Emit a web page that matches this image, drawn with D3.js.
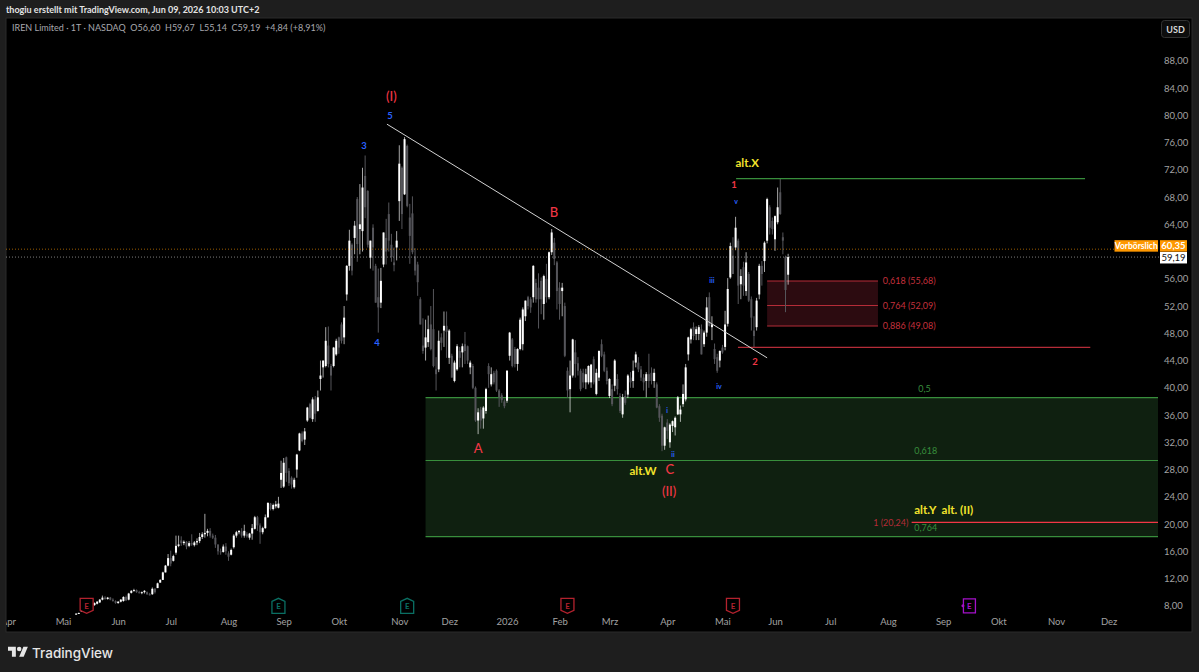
<!DOCTYPE html>
<html lang="de">
<head>
<meta charset="utf-8">
<title>IREN Limited 1T</title>
<script src="https://cdn.jsdelivr.net/npm/d3@7"></script>
<style>
  html, body { margin: 0; padding: 0; background: #1e1e1e; overflow: hidden; }
  svg { display: block; }
  text { font-family: Lato, "Noto Sans", sans-serif; }
  .axis text { fill: #a2a2a2; font-size: 9.5px; font-family: Lato, "Noto Sans", sans-serif; }
  .axis .domain, .axis line { display: none; }
</style>
</head>
<body>
<svg id="chart" width="1199" height="672"></svg>
<script>
// Daily sessions from 2025-05-08 to 2026-06-08, ten sessions per line.
const opens = [
  6.7,6.85,7.2,7.5,7.6,7.9,8.0,8.1,8.3,8.5,
  8.9,9.2,9.0,9.2,8.9,8.7,8.4,8.6,8.7,9.3,
  8.9,9.9,10.2,10.3,10.0,9.9,10.0,10.0,9.7,9.7,
  10.5,10.6,11.4,11.8,12.9,13.9,15,14.6,15.8,16.8,
  17.6,17.2,17.4,16.8,17.2,16.9,17.3,17.5,18.1,18.5,
  18.7,19,18.3,18,17,16,15.9,16.7,15.7,15.5,
  16.6,18.3,18.8,18.9,18.3,18.5,18,18.6,19.3,21,
  19.8,18.8,19.4,21,23,22.2,22.6,22.4,26.5,25.5,
  29.8,27.8,26.8,25.4,28,30.8,33.3,32.4,35.2,37.6,
  35.4,38.3,36.6,41.3,43,43.2,46.2,43.2,43.2,44.9,
  47.4,49.3,47.4,53.7,57.9,61,62,67.7,63.3,63,
  71.1,68.9,59.1,63.5,57.9,53.3,52.5,58.1,62,65.5,
  61,58.4,60.6,67.4,72.3,68.4,75.5,65,65.6,59.3,
  58.1,53,46.2,45.9,46.7,49.3,48.6,42.7,42.7,47.4,
  48.4,49.1,44.4,44.7,41,42.7,45.4,45.2,46.4,46.1,
  43,43.2,40,35.2,36.8,35.5,36.6,43.2,40.5,42.2,
  42.5,39.6,38.9,38,38.1,44.7,47.1,45.7,43.5,45.7,
  46.4,50.5,53.3,53,53.3,55.4,54.7,55.7,52.3,56,
  53.3,59.9,61.3,58.4,54.7,54.2,52,42.5,39.8,41.8,
  45.2,43.6,42.5,42.2,40.8,40.8,40.8,44.2,39.1,41.5,
  46.4,44.9,42.5,38.8,39.8,40.3,41.3,38.8,36.1,38.8,
  39,41.5,41,43.7,43.7,42.7,41.5,41,42,42.2,
  41,40.5,37.3,35.9,31.5,34.9,32,34.4,34.2,36.1,
  36.1,37.6,38.3,44.9,47.1,48.9,47.9,47.9,48.6,46.4,
  48.1,53.3,48.9,45.7,44.5,44,45.9,46,49.4,56.2,
  59.4,60.6,61.6,55.2,57.7,54.2,56.7,53,48.4,48.9,
  53.7,57.9,58.6,61.6,66.5,64.5,61.8,64.3,68.7,62.1,
  59.2,56.60
];
const highs = [
  6.9,7.0,7.6,7.8,8.0,8.2,8.2,8.5,8.7,9.0,
  9.5,9.4,9.3,9.3,9.1,8.8,8.7,9.0,9.4,9.5,
  9.9,10.3,10.5,10.4,10.2,10.1,10.3,10.1,9.9,10.7,
  10.6,11.4,11.9,13.0,14.0,15.6,16.1,15.5,18.3,18.3,
  18.2,17.6,17.5,17.5,18.5,17.5,17.9,18.7,18.8,21.5,
  19.3,19.4,18.6,18.4,17,16.4,17.0,17.2,16.0,16.4,
  18.5,19.0,19.1,19.4,19.9,18.8,18.7,20.0,21.2,21.2,
  20.1,19.6,21.4,23.2,23.1,23.0,23.4,24.0,29.3,29.7,
  29.9,28.2,27.0,26.8,30.3,33.4,33.6,34.1,37.2,37.8,
  38.6,38.8,39.6,44,44,48.9,49,43.5,46,47.2,
  47.5,49.6,52,58,63.2,61.2,64.5,68,69.9,72.3,
  74.1,69,61.6,64,58.2,57.5,57.6,62.8,64.8,67.2,
  62.6,60.6,63,75.6,72.5,76.8,75.7,67,68.1,60.5,
  58.5,53.3,50.2,50,50.6,52,54.5,44.5,48.4,48,
  51.2,51.2,48.6,45,44,46.4,46,46.5,48.2,46.2,
  44,43.5,40.2,37,37.2,37.3,40,43.6,43,42.5,
  42.7,39.8,39.2,38.3,42.6,48.2,47.3,46,45.8,50.3,
  51.8,52.8,53.5,53.3,58,56,56.8,56.2,56.6,58.2,
  60,63.3,62,58.6,55.5,55.4,52.5,43,44,47.2,
  47,44.5,42.8,42.8,42.8,43.3,43.5,44.6,42.8,45.5,
  47.1,45.3,43,41.4,40.5,44.2,42,39.2,39.1,39.6,
  42,42.3,44,45.3,44.5,43.2,42,42.3,45,43,
  42.8,40.8,37.6,36.2,34.3,35.4,34.8,35.2,35.8,38.8,
  37.4,40.5,43.5,47.5,48.8,49.6,49,49.2,49.3,48.4,
  53.3,54,50.5,46.5,45,45.5,46.3,51.3,56.1,61.3,
  62.1,65.1,61.9,57.4,58.5,59.9,57,53.4,50.5,53.2,
  58.2,58.6,61.5,67.9,66.8,65,65.3,69.4,70.7,62.8,
  59.4,59.67
];
const lows = [
  6.7,6.8,7.1,7.4,7.5,7.8,7.8,8.0,8.2,8.4,
  8.8,8.9,8.9,8.8,8.6,8.3,8.3,8.5,8.6,8.7,
  8.8,9.8,10.1,9.9,9.8,9.7,9.8,9.6,9.5,9.6,
  9.8,10.6,11.4,11.8,12.9,13.8,13.8,14.5,15.5,16.6,
  16.8,16.9,16.3,16.6,16.8,16.7,16.9,17.2,17.8,18.0,
  18.2,18.0,17.8,16.5,15.5,15.5,15.8,15.5,14.6,15.4,
  16.4,18.0,18.5,18.0,18.0,18.0,17.7,17.7,19.2,19.0,
  17.1,18.5,19.3,20.9,22.0,22.0,22.3,22.3,25.3,25.3,
  26.2,25.6,25.2,25.2,26.8,30.7,32,31.6,35,35.5,
  35,35,36.5,39.6,41.5,43,43,39.6,43,44.7,
  45,46.5,46.4,52.8,57.2,56.5,59.6,58.5,59.6,60,
  64.9,60.6,57.5,57.2,52.5,48.1,51.7,57.7,58.1,60,
  58.5,57.1,58.7,64.5,63.3,68.3,66.5,58.2,59.6,56.5,
  53.5,49.3,45,44,46,45.5,43,39.6,42.3,45.5,
  46,44.4,43.5,41.5,40.8,42.5,43,43,43.5,43.5,
  42,39.8,35,33.2,34,34,36.2,40,40.2,40.5,
  39.4,37.2,37.8,37,37.8,44,43,43,42.5,45.5,
  45.5,49.8,51.5,51,52.5,52.5,48.7,50.8,50,52.5,
  53,59.5,58,51.5,50,50.5,44.5,38.5,36.4,41.5,
  41.5,41.8,39.5,40,39.8,40.5,40,40.5,38.9,41,
  44.5,42.3,40.5,38.5,37.3,39.5,39,36.3,35.6,37.5,
  38.5,40,40,43,42.3,41,39.6,38.6,40,40.5,
  40,37,35,30.7,30.9,32.5,31.2,33.5,33,36,
  35,37.2,38,44,46.5,47,47,47,44.9,46,
  47.5,49,47,43.5,42.2,43,45,45.5,49,56,
  56.7,60.2,52.3,53,53.5,53.5,52.6,48.4,45.9,48.4,
  53,55,57,61.2,62.5,62.5,60.1,64,65.4,59.6,
  51.1,55.14
];
const closes = [
  6.85,6.95,7.5,7.6,7.9,8.0,8.1,8.4,8.6,8.9,
  9.2,9.0,9.2,8.9,8.7,8.4,8.6,8.9,9.3,8.8,
  9.8,10.2,10.3,10.0,9.9,10.0,10.2,9.7,9.6,10.5,
  10.0,11.3,11.8,12.9,13.9,15.0,14.2,15.3,16.8,17.0,
  17.2,17.4,16.7,17.2,17.0,17.3,17.5,18.1,18.5,18.7,
  19.0,18.3,18.0,17.0,16.0,15.9,16.7,16.0,15.2,16.2,
  18.3,18.8,19.0,18.3,19.0,18.2,18.6,19.4,21.0,19.8,
  18.8,19.4,21.0,23.1,22.2,22.8,22.9,23.0,27.5,29.0,
  27.5,26.0,25.8,26.5,30.2,33.3,32.2,33.6,37.1,35.6,
  38.3,36.2,38.6,41.8,44,46.9,43.5,41.8,45.9,46.9,
  45.9,46.9,50.3,57.9,61.6,57.2,63.8,61.1,64,69.4,
  66.5,61,61.6,60.6,52.5,51.8,55.7,62.8,60,61.6,
  59.2,58,61.6,72.9,65.5,76.5,66.7,62.3,59.9,57.2,
  55.5,49.3,45.4,47.4,48.6,45.7,43.2,42,46.9,46.6,
  49.1,48.2,48.4,41.5,43.7,46.1,44.4,46.1,45.4,44,
  43.7,40,35.2,36.4,35.2,37.1,39.8,42,42,40.8,
  39.6,38.6,38.2,37.3,42.5,48.1,43.2,43.5,45.7,50,
  51.5,52.8,52,51.8,57.9,53,53,53,56.4,53.3,
  59.9,62.8,58.9,54.2,52.3,54.7,44.7,39.6,41.8,47.1,
  43.5,42.5,39.8,40.8,42,43.2,43.4,40.8,42.2,45.4,
  44.7,42.5,41,41.3,37.6,44,39.8,36.6,38.6,37.8,
  41.8,40.8,42.5,44.9,42.7,41.5,40.8,42,41,41,
  42.2,37.1,35.6,31.5,34.2,33.7,34.6,35.1,35.6,38.6,
  36.8,39.1,43,47.4,48.6,47.6,48.6,48.9,44.9,48.1,
  51.8,49.1,49.3,44.2,42.5,45.4,45.2,49.3,54.5,60.8,
  56.7,63.5,55,56.4,55,58.4,52.8,50.3,47.6,52.8,
  57.9,56.7,61.3,67.7,63.5,63.3,65.2,66.5,65.5,61.6,
  54.35,59.19
];

const firstSession = "2025-05-08";
const marketHolidays = [
  "2025-04-18","2025-05-26","2025-06-19","2025-07-04","2025-09-01","2025-11-27","2025-12-25",
  "2026-01-01","2026-01-19","2026-02-16","2026-04-03","2026-05-25","2026-06-19","2026-07-03",
  "2026-09-07","2026-11-26","2026-12-25"
];

// The 60,00 tick is left out: the price tags occupy that spot on the scale.
const priceTicks = [8,12,16,20,24,28,32,36,40,44,48,52,56,64,68,72,76,80,84,88];
const monthTicks = [
  ["2025-04-01","Apr"],["2025-05-01","Mai"],["2025-06-02","Jun"],["2025-07-01","Jul"],
  ["2025-08-01","Aug"],["2025-09-02","Sep"],["2025-10-01","Okt"],["2025-11-03","Nov"],
  ["2025-12-01","Dez"],["2026-01-02","2026"],["2026-02-02","Feb"],["2026-03-02","Mrz"],
  ["2026-04-01","Apr"],["2026-05-01","Mai"],["2026-06-01","Jun"],["2026-07-01","Jul"],
  ["2026-08-03","Aug"],["2026-09-01","Sep"],["2026-10-01","Okt"],["2026-11-02","Nov"],
  ["2026-12-01","Dez"]
];

const earnings = [
  ["2025-05-14","miss"],["2025-08-28","beat"],["2025-11-06","beat"],
  ["2026-02-05","miss"],["2026-05-07","miss"],["2026-09-16","next"]
];

// Fibonacci levels in dollars.
const retraceLevels = [[0.618,55.68],[0.764,52.09],[0.886,49.08]];
const extensionLevels = [[0.5,38.57],[0.618,29.33],[0.764,18.14]];
const swingHigh = 70.7, swingLow = 45.94, targetLevel = 20.24;
const lastClose = 59.19, preMarket = 60.35;

// Wave counts, placed by session number (0 = 2025-05-01) and price.
const waveLabels = [
  ["(I)",125,82.8,"red","big"],["5",124.5,79.9,"blue","mid"],["3",114.6,75.6,"blue","mid"],
  ["4",119.5,46.7,"blue","mid"],["B",186.9,65.8,"red","big"],["A",158,31.2,"red","big"],
  ["C",231,28.1,"red","big"],["(II)",230.7,24.9,"red","big"],["alt.W",220.8,27.9,"yellow","big"],
  ["alt.X",260.4,73,"yellow","big"],["1",255.4,69.8,"red","mid"],["2",263.4,43.9,"red","mid"],
  ["iii",247,55.8,"blue","tiny"],["v",256.2,67.4,"blue","tiny"],["iv",249.7,40.3,"blue","tiny"],
  ["i",229.9,36.7,"blue","tiny"],["ii",232.2,30.3,"blue","tiny"]
];

const C = {
  page: "#1e1e1e", pane: "#000000", frame: "#2b2b2b",
  up: "#ffffff", down: "#55555a",
  red: "#f23645", dimRed: "#b52c38", labelRed: "#c4303c", green: "#388e3c", greenFill: "#0f2010", redFill: "#2c0b10",
  blue: "#2962ff", yellow: "#f2e32c", orange: "#ff9800", teal: "#0a6f63", purple: "#a411c9"
};

const pane = { left: 6, right: 1158, top: 18, bottom: 632, outer: 1192 };

// Session calendar: weekdays without NYSE holidays, indexed from 2025-05-01.
const fmt = d3.utcFormat("%Y-%m-%d");
const calendar = d3.utcDay.range(new Date("2025-04-01T00:00Z"), new Date("2027-01-01T00:00Z"))
  .filter(d => d.getUTCDay() % 6 !== 0)
  .map(fmt)
  .filter(d => !marketHolidays.includes(d));
const originIdx = calendar.indexOf("2025-05-01");
const session = day => calendar.indexOf(day) - originIdx;

const x = d3.scaleLinear().domain([0, 271]).range([63, 775]);
const y = d3.scaleLinear().domain([8, 88]).range([605.8, 60.8]);

const start = session(firstSession);
const bars = opens.map((o, i) => ({ n: start + i, o, h: highs[i], l: lows[i], c: closes[i] }));

const svg = d3.select("#chart");
svg.append("rect").attr("width", 1199).attr("height", 672).attr("fill", C.page);
svg.append("rect")
  .attr("x", pane.left).attr("y", pane.top)
  .attr("width", pane.outer - pane.left).attr("height", pane.bottom - pane.top)
  .attr("fill", C.pane).attr("stroke", C.frame);

svg.append("clipPath").attr("id", "paneClip").append("rect")
  .attr("x", pane.left).attr("y", pane.top)
  .attr("width", pane.outer - pane.left).attr("height", pane.bottom - pane.top);

const plot = svg.append("g").attr("clip-path", "url(#paneClip)");

// Header and legend
svg.append("text").attr("x", 6).attr("y", 12.5)
  .attr("fill", "#e4e4e4").attr("font-size", 9).attr("font-weight", 700)
  .text("thogiu erstellt mit TradingView.com, Jun 09, 2026 10:03 UTC+2");
svg.append("text").attr("x", 12).attr("y", 30.5)
  .attr("fill", "#a8a8ae").attr("font-size", 9).attr("xml:space", "preserve")
  .text("IREN Limited · 1T · NASDAQ  O56,60  H59,67  L55,14  C59,19  +4,84 (+8,91%)");

// Extension zone and its levels
const zoneFrom = x(138), zoneTo = pane.right;
plot.append("rect")
  .attr("x", zoneFrom).attr("y", y(extensionLevels[0][1]))
  .attr("width", zoneTo - zoneFrom)
  .attr("height", y(extensionLevels[2][1]) - y(extensionLevels[0][1]))
  .attr("fill", C.greenFill);
plot.selectAll(".ext").data(extensionLevels).join("line").attr("class", "ext")
  .attr("x1", zoneFrom).attr("x2", zoneTo)
  .attr("y1", d => y(d[1])).attr("y2", d => y(d[1]))
  .attr("stroke", C.green).attr("stroke-width", 1.2);
plot.selectAll(".extLabel").data(extensionLevels).join("text").attr("class", "extLabel")
  .attr("x", d => x(d[0] === 0.5 ? 325.5 : 324)).attr("y", d => y(d[1]) + (d[0] === 0.764 ? -5.5 : -6))
  .attr("fill", C.green).attr("font-size", 9)
  .text(d => String(d[0]).replace(".", ","));

// Retracement box
const boxFrom = x(268), boxTo = x(310.2);
plot.append("rect")
  .attr("x", boxFrom).attr("y", y(retraceLevels[0][1]))
  .attr("width", boxTo - boxFrom)
  .attr("height", y(retraceLevels[2][1]) - y(retraceLevels[0][1]))
  .attr("fill", C.redFill);
plot.selectAll(".ret").data(retraceLevels).join("line").attr("class", "ret")
  .attr("x1", boxFrom).attr("x2", boxTo)
  .attr("y1", d => y(d[1])).attr("y2", d => y(d[1]))
  .attr("stroke", C.dimRed).attr("stroke-width", 1.1);

// Candles
const candle = plot.append("g").selectAll("g").data(bars).join("g")
  .attr("fill", d => d.c >= d.o ? C.up : C.down)
  .attr("stroke", d => d.c >= d.o ? C.up : C.down);
candle.append("line")
  .attr("x1", d => x(d.n)).attr("x2", d => x(d.n))
  .attr("y1", d => y(d.h)).attr("y2", d => y(d.l))
  .attr("stroke-width", 1).attr("stroke-opacity", d => d.c >= d.o ? 0.65 : 1);
candle.append("rect")
  .attr("x", d => x(d.n) - 1).attr("width", 2)
  .attr("y", d => y(Math.max(d.o, d.c)))
  .attr("height", d => Math.max(1, Math.abs(y(d.o) - y(d.c))))
  .attr("stroke", "none");

// Swing levels, target line and trend line
plot.append("line").attr("x1", x(256.2)).attr("x2", x(389))
  .attr("y1", y(swingHigh)).attr("y2", y(swingHigh))
  .attr("stroke", C.green).attr("stroke-width", 1.1);
plot.append("line").attr("x1", x(256.9)).attr("x2", x(391))
  .attr("y1", y(swingLow)).attr("y2", y(swingLow))
  .attr("stroke", C.dimRed).attr("stroke-width", 1.1);
plot.append("line").attr("x1", x(323)).attr("x2", pane.right)
  .attr("y1", y(targetLevel)).attr("y2", y(targetLevel))
  .attr("stroke", C.red).attr("stroke-width", 1.4);
plot.append("line")
  .attr("x1", x(123.3)).attr("y1", y(78.7))
  .attr("x2", x(268)).attr("y2", y(44.4))
  .attr("stroke", "#d2d2d2").attr("stroke-width", 1);

plot.selectAll(".retLabel").data(retraceLevels).join("text").attr("class", "retLabel")
  .attr("x", x(312)).attr("y", d => y(d[1]))
  .attr("dominant-baseline", "central")
  .attr("fill", C.labelRed).attr("font-size", 9)
  .text(d => `${String(d[0]).replace(".", ",")} (${d[1].toFixed(2).replace(".", ",")})`);
plot.append("text").attr("x", x(321.8)).attr("y", y(targetLevel))
  .attr("text-anchor", "end").attr("dominant-baseline", "central")
  .attr("fill", C.dimRed).attr("font-size", 9)
  .text(`1 (${targetLevel.toFixed(2).replace(".", ",")})`);
plot.append("text").attr("x", x(324)).attr("y", y(22.2))
  .attr("dominant-baseline", "central")
  .attr("fill", C.yellow).attr("font-size", 11.5).attr("font-weight", 700).attr("xml:space", "preserve")
  .text("alt.Y  alt. (II)");

// Last price and pre-market lines
[[preMarket, C.orange, 1114], [lastClose, "#cfcfcf", 1160]].forEach(([p, col, end]) => {
  plot.append("line").attr("x1", pane.left).attr("x2", end)
    .attr("y1", y(p)).attr("y2", y(p))
    .attr("stroke", col).attr("stroke-width", 1).attr("stroke-dasharray", "1 2").attr("stroke-opacity", 0.6);
});

// Wave labels
const waveColor = { red: C.red, blue: C.blue, yellow: C.yellow };
const waveSize = { big: 13, mid: 9.5, tiny: 7 };
plot.selectAll(".wave").data(waveLabels).join("text").attr("class", "wave")
  .attr("x", d => x(d[1])).attr("y", d => y(d[2]))
  .attr("text-anchor", "middle").attr("dominant-baseline", "central")
  .attr("fill", d => waveColor[d[3]])
  .attr("font-size", d => d[3] === "yellow" ? 11.5 : waveSize[d[4]])
  .attr("font-weight", d => d[3] === "yellow" || d[4] !== "big" ? 700 : 500)
  .text(d => d[0]);

// Earnings markers
const badgeAt = y(8);
const badgeShape = {
  miss: "M-6.5,-7.5H6.5V4.5L0,7.5L-6.5,4.5Z",
  beat: "M-6.5,-4.5L0,-7.5L6.5,-4.5V7.5H-6.5Z",
  next: "M-6,-7H6V7H-6Z"
};
const badgeColor = { miss: "#b3222e", beat: C.teal, next: C.purple };
const badge = plot.selectAll(".badge").data(earnings).join("g").attr("class", "badge")
  .attr("transform", d => `translate(${x(session(d[0]))},${badgeAt})`);
badge.append("path").attr("d", d => badgeShape[d[1]])
  .attr("fill", "#000").attr("stroke", d => badgeColor[d[1]]).attr("stroke-width", 1.3);
badge.append("text").attr("text-anchor", "middle").attr("dominant-baseline", "central")
  .attr("fill", d => badgeColor[d[1]]).attr("font-size", 8).attr("font-weight", 700).text("E");
badge.filter(d => d[1] === "next").append("circle")
  .attr("cx", -6.5).attr("r", 1.5).attr("fill", C.purple);

// Axes
const yAxis = d3.axisRight(y).tickValues(priceTicks).tickSize(0).tickPadding(0)
  .tickFormat(p => p.toFixed(2).replace(".", ","));
svg.append("g").attr("class", "axis").attr("transform", "translate(1164,0)").call(yAxis);

const tickName = new Map(monthTicks.map(([d, n]) => [session(d), n]));
const xAxis = d3.axisBottom(x).tickValues([...tickName.keys()]).tickSize(0).tickPadding(0)
  .tickFormat(n => tickName.get(n));
plot.append("g").attr("class", "axis").attr("transform", "translate(0,618)").call(xAxis);

// USD button
svg.append("rect").attr("x", 1161.5).attr("y", 20.5).attr("width", 28).attr("height", 17).attr("rx", 3)
  .attr("fill", "#0d0d0d").attr("stroke", "#333");
svg.append("text").attr("x", 1175.5).attr("y", 29).attr("text-anchor", "middle").attr("dominant-baseline", "central")
  .attr("fill", "#d6d6d6").attr("font-size", 9).attr("font-weight", 700).text("USD");

// Price tags: the pre-market tag sits above the last-close tag so both stay readable
const tag = (bx, w, top, fill, ink, label, weight, size) => {
  svg.append("rect").attr("x", bx).attr("y", top).attr("width", w).attr("height", 11.5).attr("fill", fill);
  svg.append("text").attr("x", bx + w / 2).attr("y", top + 5.8)
    .attr("text-anchor", "middle").attr("dominant-baseline", "central")
    .attr("fill", ink).attr("font-size", size).attr("font-weight", weight).text(label);
};
const preTop = y(preMarket) - 9, lastTop = preTop + 11.8;
tag(1114.5, 43.5, preTop, C.orange, "#fff", "Vorbörslich", 700, 8.5);
tag(1160, 27, preTop, C.orange, "#fff", preMarket.toFixed(2).replace(".", ","), 700, 9.5);
tag(1160, 27, lastTop, "#fff", "#111", lastClose.toFixed(2).replace(".", ","), 400, 9.5);

// Footer brand mark
const logo = svg.append("g").attr("transform", "translate(8,644.5) scale(0.56)").attr("fill", "#e6e6e6");
logo.append("path").attr("d", "M14 22H7V11H0V4h14v18zM28 22h-8l7.5-18h8L28 22z");
logo.append("circle").attr("cx", 20).attr("cy", 8).attr("r", 4);
svg.append("text").attr("x", 32).attr("y", 658)
  .attr("fill", "#e6e6e6").attr("font-size", 13.5).attr("font-weight", 500)
  .style("font-family", "Inter, Roboto, sans-serif").text("TradingView");
</script>
</body>
</html>
